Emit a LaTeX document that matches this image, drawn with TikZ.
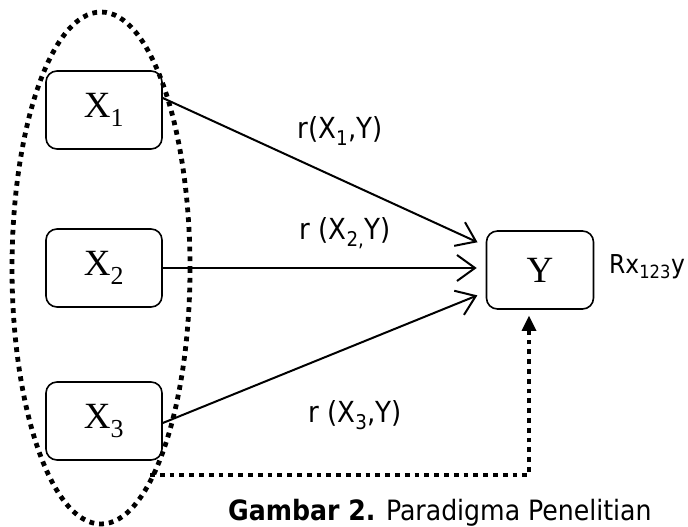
\documentclass[tikz,border=0pt]{standalone}
\usepackage{fontspec}
\setmainfont{Liberation Serif}
\newfontfamily\labfont{DejaVu Sans Condensed}
\usetikzlibrary{arrows.meta}
\tikzset{
  varbox/.style={draw, line width=1.6pt, rounded corners=11pt,
    minimum width=116pt, minimum height=78pt, inner sep=0pt,
    font=\fontsize{37}{40}\selectfont},
  ybox/.style={varbox, minimum width=107pt},
  corr/.style={line width=2pt, -{Straight Barb[length=18pt,width=26pt,line width=2pt]}, shorten >=9pt},
  squaredots/.style={line width=4.8pt, dash pattern=on 4.8pt off 5pt},
  lab/.style={font=\labfont\fontsize{29}{33}\selectfont, inner sep=0pt},
}
\begin{document}
\begin{tikzpicture}[x=1pt, y=-1pt]
  \useasboundingbox (0,0) rectangle (688,527);

  % grouping of the independent variables
  \draw[squaredots] (101,268) ellipse [x radius=89, y radius=256];

  % variable boxes
  \node[varbox] (x1) at (104,110) {X\textsubscript{1}};
  \node[varbox] (x2) at (104,268) {X\textsubscript{2}};
  \node[varbox] (x3) at (104,421) {X\textsubscript{3}};
  \node[ybox]   (y)  at (540,270) {Y};

  % partial correlations
  \draw[corr] ([yshift=12pt]x1.east) -- ([yshift=24pt]y.west);
  \draw[corr] ([yshift=0pt]x2.east)  -- ([yshift=2pt]y.west);
  \draw[corr] ([yshift=-2pt]x3.east) -- ([yshift=-22pt]y.west);

  \node[lab] (l1) at (340,131) {r(X\textsubscript{1},Y)};
  \node[lab] (l2) at (345,233) {r (X\textsubscript{2,}Y)};
  \node[lab] (l3) at (355,415) {r (X\textsubscript{3},Y)};
  \node[lab, anchor=west, font=\labfont\fontsize{26}{30}\selectfont]
    (ry) at (609,267) {Rx\textsubscript{123}y};

  % multiple correlation
  \coordinate (dstart) at (150,475);
  \draw[squaredots, shorten >=6pt, -{Triangle[length=15pt,width=15pt,line width=0pt]}]
    (dstart) -| ([xshift=-11pt]y.south);

  % caption
  \node[anchor=base west, inner sep=0pt, font=\labfont\fontsize{28}{32}\selectfont]
    (cap) at (228,520) {\textbf{Gambar 2.} Paradigma Penelitian};
\end{tikzpicture}
\end{document}
